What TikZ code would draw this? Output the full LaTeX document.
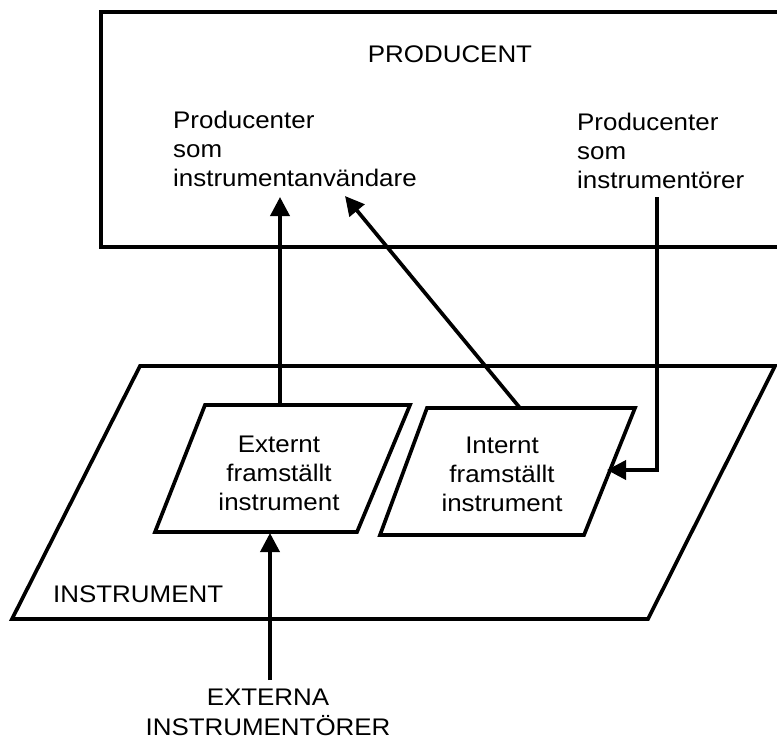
\documentclass[tikz,border=0pt]{standalone}
\usepackage{fontspec}
\setmainfont{Liberation Sans}[FakeStretch=1.08]
\usetikzlibrary{arrows.meta}

\tikzset{
  frame/.style={line width=3.7pt},
  conn/.style={line width=3.7pt, -{Triangle[length=19pt,width=19pt]}},
  lbl/.style={inner sep=0pt, font=\fontsize{24}{29}\selectfont},
}
\newcommand{\leftlines}[1]{\begin{tabular}[t]{@{}l@{}}#1\end{tabular}}
\newcommand{\midlines}[1]{\begin{tabular}[t]{@{}c@{}}#1\end{tabular}}

\begin{document}
\begin{tikzpicture}[x=1pt, y=-1pt]
  \useasboundingbox (0,0) rectangle (777,742);
  \clip (0,0) rectangle (777,742);

  % producer box, running off the right edge
  \draw[frame] (101,12) rectangle (820,247);

  % instrument plane and the two instrument kinds
  \draw[frame] (140,366) -- (775,366) -- (648,619) -- (12,619) -- cycle;
  \draw[frame] (205,405) -- (410,405) -- (357,532) -- (155,532) -- cycle;
  \draw[frame] (427,408) -- (635,408) -- (584,535) -- (380,535) -- cycle;

  % labels
  \node[lbl, anchor=base] (prod) at (450,62) {PRODUCENT};
  \node[lbl, anchor=base west] (usr) at (173,128)
    {\leftlines{Producenter\\som\\instrumentanvändare}};
  \node[lbl, anchor=base west] (mkr) at (577,130)
    {\leftlines{Producenter\\som\\instrumentörer}};
  \node[lbl, anchor=base] (ext) at (279,452)
    {\midlines{Externt\\framställt\\instrument}};
  \node[lbl, anchor=base] (int) at (502,453)
    {\midlines{Internt\\framställt\\instrument}};
  \node[lbl, anchor=base west] (inst) at (53,602) {INSTRUMENT};
  \node[lbl, anchor=base] (exto) at (268,705)
    {\midlines{EXTERNA\\[1pt]INSTRUMENTÖRER}};

  % connector end points on the shapes
  \coordinate (extTop) at (280,405);
  \coordinate (extBot) at (270,533);
  \coordinate (intTop) at (520,408);
  \coordinate (intSide) at (607,470);
  \coordinate (usrA) at (280,197);
  \coordinate (usrB) at (345,196);
  \coordinate (mkrOut) at (657,197);
  \coordinate (bend) at (657,470);
  \coordinate (extoTop) at (270,680);

  % connectors
  \draw[conn] (extTop) -- (usrA);
  \draw[conn] (intTop) -- (usrB);
  \draw[conn] (mkrOut) -- (bend) -- (intSide);
  \draw[conn] (extoTop) -- (extBot);
\end{tikzpicture}
\end{document}
